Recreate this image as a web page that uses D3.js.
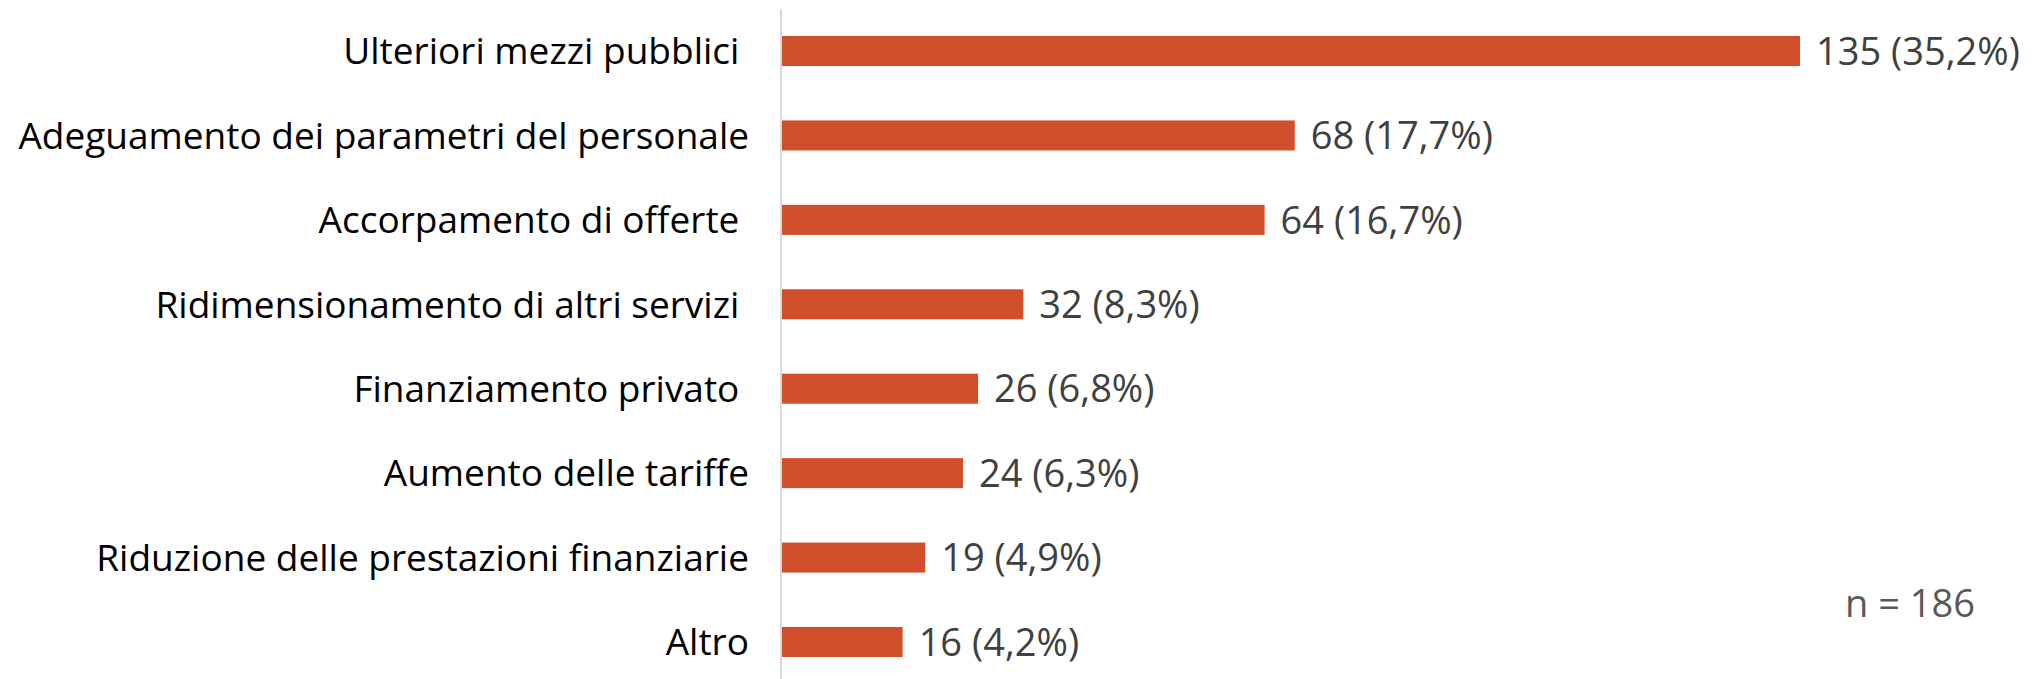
<!DOCTYPE html>
<html>
<head>
<meta charset="utf-8">
<script src="https://cdn.jsdelivr.net/npm/d3@7"></script>
<style>
  body { margin: 0; background: #fff; }
  svg text { font-family: "Open Sans", sans-serif; white-space: pre; }
</style>
</head>
<body>
<div id="chart"></div>
<script>
// categories as in the chart (trailing spaces kept as in the original labels)
const categories = [
    "Ulteriori mezzi pubblici ",
    "Adeguamento dei parametri del personale",
    "Accorpamento di offerte ",
    "Ridimensionamento di altri servizi ",
    "Finanziamento privato ",
    "Aumento delle tariffe",
    "Riduzione delle prestazioni finanziarie",
    "Altro"
]
const values = [135, 68, 64, 32, 26, 24, 19, 16]
const percents = ["35,2%", "17,7%", "16,7%", "8,3%", "6,8%", "6,3%", "4,9%", "4,2%"]
const note = "n = 186"

const width = 2032, height = 679

const svg = d3.select("#chart")
    .append("svg")
    .attr("width", width)
    .attr("height", height)

const x = d3.scaleLinear()
    .domain([0, d3.max(values)])
    .range([782, 1800])

const y = d3.scaleBand()
    .domain(categories)
    .range([9, 684])
    .paddingInner(0.6445)
    .paddingOuter(0.32)

const data = categories.map((c, i) => ({ cat: c, value: values[i], pct: percents[i] }))

// bars
svg.selectAll(".bar")
    .data(data)
    .join("rect")
    .attr("class", "bar")
    .attr("x", x(0))
    .attr("y", d => y(d.cat))
    .attr("width", d => x(d.value) - x(0))
    .attr("height", y.bandwidth())
    .attr("fill", "#d04e2b")

// vertical axis line
svg.append("line")
    .attr("x1", x(0) - 1).attr("x2", x(0) - 1)
    .attr("y1", 9).attr("y2", height)
    .attr("stroke", "#d9d9d9")
    .attr("stroke-width", 2)

// category labels
svg.selectAll(".cat")
    .data(data)
    .join("text")
    .attr("class", "cat")
    .attr("x", 749)
    .attr("y", d => y(d.cat) + y.bandwidth() / 2)
    .attr("dy", "0.36em")
    .attr("text-anchor", "end")
    .attr("font-size", 37)
    .attr("fill", "#000")
    .text(d => d.cat)

// value labels
svg.selectAll(".val")
    .data(data)
    .join("text")
    .attr("class", "val")
    .attr("x", d => x(d.value) + 16)
    .attr("y", d => y(d.cat) + y.bandwidth() / 2)
    .attr("dy", "0.36em")
    .attr("font-size", 38)
    .attr("fill", "#404040")
    .text(d => `${d.value} (${d.pct})`)

svg.append("text")
    .attr("x", 1845)
    .attr("y", 617)
    .attr("font-size", 38)
    .attr("fill", "#595959")
    .text(note)
</script>
</body>
</html>
